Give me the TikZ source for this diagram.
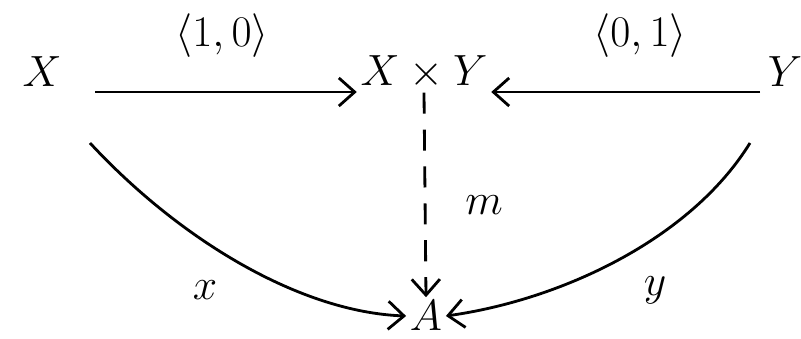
\documentclass[tikz,border=0pt]{standalone}
\usetikzlibrary{arrows.meta}
\begin{document}
\begin{tikzpicture}[x=0.02cm,y=-0.02cm,
  obj/.style={inner sep=2pt,font=\fontsize{40}{44}\selectfont},
  lab/.style={inner sep=1pt,font=\fontsize{28}{32}\selectfont},
  arr/.style={line width=1.6pt,-{Straight Barb[length=9pt,width=16pt,line width=1.6pt]}},
  dasharr/.style={arr,dash pattern=on 12pt off 9pt}]
\useasboundingbox (0,0) rectangle (801,338);
\node[obj] (X) at (42,72) {$X$};
\node[obj] (XY) at (424,72) {$X\times Y$};
\node[obj] (Y) at (785,72) {$Y$};
\node[obj] (A) at (426,316) {$A$};
\coordinate (xs) at (95,92);
\coordinate (ys) at (760,92);
\coordinate (xc) at (90,143);
\coordinate (yc) at (750,143);
\draw[arr] (xs) -- (XY.west|-xs);
\draw[arr] (ys) -- (XY.east|-ys);
\draw[dasharr] (XY.south) -- (A.north);
\draw[arr] (xc) .. controls (180,240) and (300,312) .. (A.west);
\draw[arr] (yc) .. controls (690,240) and (560,300) .. (A.east);
\node[lab] at (222,36) {$\langle 1,0\rangle$};
\node[lab] at (640,36) {$\langle 0,1\rangle$};
\node[lab] at (484,205) {$m$};
\node[lab] at (205,290) {$x$};
\node[lab] at (655,290) {$y$};
\end{tikzpicture}
\end{document}
